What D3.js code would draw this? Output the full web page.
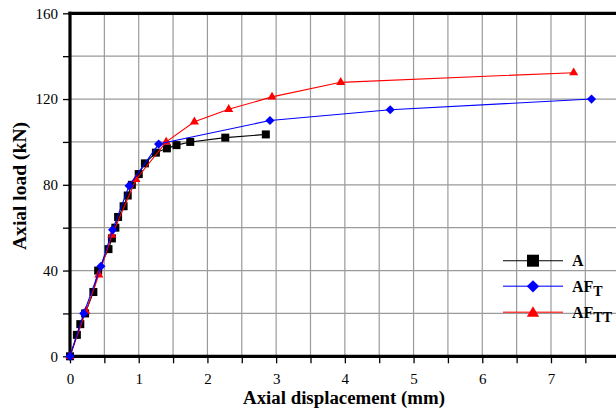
<!DOCTYPE html>
<html><head><meta charset="utf-8">
<script src="https://cdn.jsdelivr.net/npm/d3@7"></script>
<style>html,body{margin:0;padding:0;background:#fff;overflow:hidden} svg text{font-family:"Liberation Serif","Times New Roman",serif}</style>
</head><body>
<script>
const xTickValues = [0,1,2,3,4,5,6,7,8];
const yTickValues = [0,40,80,120,160];

const dispA  = [0,0.1,0.15,0.22,0.34,0.41,0.56,0.61,0.66,0.70,0.78,0.84,0.90,1.0,1.09,1.25,1.41,1.55,1.75,2.26,2.85];
const loadA  = [0,10,15,20,30,40,50,55,60,65,70,75,80,85,90,95,97,98.5,100,102,103.5];

const dispAFT = [0,0.2,0.45,0.62,0.86,1.29,2.91,4.66,7.59];
const loadAFT = [0,20,42,59,79.5,99,110,115,120];

const dispAFTT = [0,0.23,0.42,0.61,0.96,1.4,1.81,2.31,2.94,3.94,7.33];
const loadAFTT = [0,21,38,56.5,82.5,100,109.4,115.2,121,127.8,132.3];

const W = 616, H = 412;
const FONT = "Liberation Serif";
const svg = d3.select("body").append("svg").attr("width", W).attr("height", H)
  .attr("font-family", FONT);

const x = d3.scaleLinear().domain([0,8]).range([70, 619.7]);
const y = d3.scaleLinear().domain([0,160]).range([356.3, 13.3]);

// grid
const g = svg.append("g");
g.selectAll("line.vg").data(d3.range(0.5, 8.01, 0.5)).join("line")
  .attr("x1", d => x(d)).attr("x2", d => x(d)).attr("y1", y(0)).attr("y2", y(160))
  .attr("stroke", "#9a9a9a").attr("stroke-width", 1.2);
g.selectAll("line.hg").data(d3.range(20, 160, 20)).join("line")
  .attr("x1", x(0)).attr("x2", x(8)).attr("y1", d => y(d)).attr("y2", d => y(d))
  .attr("stroke", "#9a9a9a").attr("stroke-width", 1.2);

// axes
const xAxis = d3.axisBottom(x).tickValues(d3.range(0, 8.01, 0.5)).tickSize(7)
  .tickFormat(d => xTickValues.includes(d) ? d : "");
const yAxis = d3.axisLeft(y).tickValues(d3.range(0, 160.1, 20)).tickSize(7)
  .tickFormat(d => yTickValues.includes(d) ? d : "");

const gx = svg.append("g").attr("transform", `translate(0,${y(0)})`).call(xAxis)
  .attr("font-family", FONT).attr("font-size", 15);
gx.select(".domain").remove();
gx.selectAll(".tick line").attr("stroke", "#000").attr("stroke-width", 1.3);
gx.selectAll(".tick text").attr("fill", "#000").attr("y", 27.7).attr("dy", 0);

const gy = svg.append("g").attr("transform", `translate(${x(0)},0)`).call(yAxis)
  .attr("font-family", FONT).attr("font-size", 15);
gy.select(".domain").remove();
gy.selectAll(".tick line").attr("stroke", "#000").attr("stroke-width", 1.3);
gy.selectAll(".tick text").attr("fill", "#000").attr("x", -12);

// frame
const frame = (x1,y1,x2,y2) => svg.append("line").attr("x1",x1).attr("y1",y1).attr("x2",x2).attr("y2",y2)
  .attr("stroke","#000").attr("stroke-width",3.2).attr("stroke-linecap","square");
frame(x(0), y(0), x(8), y(0));
frame(x(0), y(160), x(8), y(160));
frame(x(0), y(0), x(0), y(160));
frame(x(8), y(0), x(8), y(160));

// series
const diamond = { draw(ctx, size) { const r = Math.sqrt(size/2); ctx.moveTo(0,-r); ctx.lineTo(r,0); ctx.lineTo(0,r); ctx.lineTo(-r,0); ctx.closePath(); } };
const series = [
  {name:"A", xs:dispA, ys:loadA, color:"#000", sym:d3.symbolSquare, size:64},
  {name:"AFTT", xs:dispAFTT, ys:loadAFTT, color:"#ff0000", sym:d3.symbolTriangle, size:36},
  {name:"AFT", xs:dispAFT, ys:loadAFT, color:"#0000ff", sym:diamond, size:42},
];
const line = d3.line().x(d => x(d[0])).y(d => y(d[1]));
series.forEach(s => {
  const pts = s.xs.map((v,i) => [v, s.ys[i]]);
  svg.append("path").datum(pts).attr("d", line).attr("fill", "none")
    .attr("stroke", s.color).attr("stroke-width", 1.1);
  svg.append("g").selectAll("path").data(pts).join("path")
    .attr("d", d3.symbol().type(s.sym).size(s.size))
    .attr("transform", d => `translate(${x(d[0])},${y(d[1])})`)
    .attr("fill", s.color);
});

// legend
const legend = [
  {label:"A", sub:"", color:"#000", sym:d3.symbolSquare, size:144, y:260.7},
  {label:"AF", sub:"T", color:"#0000ff", sym:diamond, size:76, y:286.3},
  {label:"AF", sub:"TT", color:"#ff0000", sym:d3.symbolTriangle, size:66, y:312.3},
];
legend.forEach(l => {
  svg.append("line").attr("x1", 503).attr("x2", 563).attr("y1", l.y).attr("y2", l.y)
    .attr("stroke", l.color).attr("stroke-width", l.color === "#000" ? 1.1 : 1.5)
    .attr("stroke-opacity", l.color === "#000" ? 1 : 0.7);
  svg.append("path").attr("d", d3.symbol().type(l.sym).size(l.size)())
    .attr("transform", `translate(533,${l.y + (l.sym === d3.symbolTriangle ? 1 : 0)})`).attr("fill", l.color);
  const t = svg.append("text").attr("x", 572).attr("y", l.y + 5.5)
    .attr("font-size", 16).attr("font-weight", "bold").attr("fill", "#000");
  t.append("tspan").text(l.label);
  if (l.sub) t.append("tspan").attr("dy", 4).attr("font-size", 14).text(l.sub);
});

// axis titles (font size fitted to the reference text widths)
function fit(sel, target) {
  const len = sel.node().getComputedTextLength();
  if (len > 0) sel.attr("font-size", Math.max(14, Math.min(21, 18 * target / len)));
}
const xt = svg.append("text").attr("x", 344).attr("y", 404).attr("text-anchor", "middle")
  .attr("font-size", 18).attr("font-weight", "bold").text("Axial displacement (mm)");
fit(xt, 202);
const yt = svg.append("text").attr("transform", "translate(26,186) rotate(-90)").attr("text-anchor", "middle")
  .attr("font-size", 18).attr("font-weight", "bold").text("Axial load (kN)");
fit(yt, 128);
</script>
</body></html>
